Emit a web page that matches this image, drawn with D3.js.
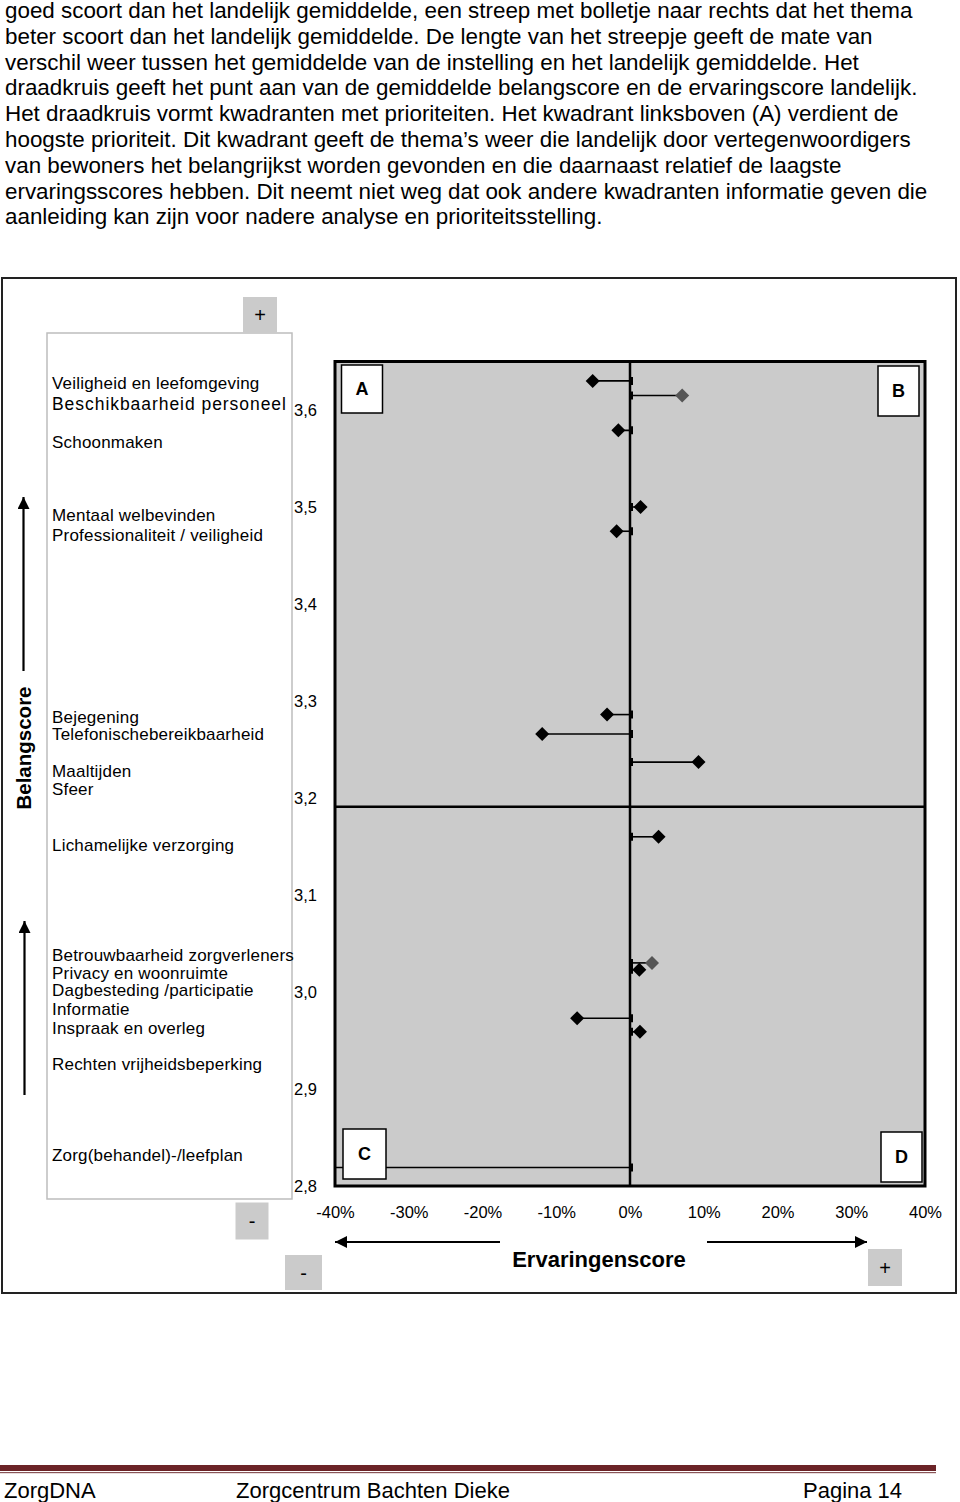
<!DOCTYPE html>
<html>
<head>
<meta charset="utf-8">
<script src="https://cdn.jsdelivr.net/npm/d3@7/dist/d3.min.js"></script>
<style>
  html, body { margin: 0; padding: 0; background: #fff; }
  svg { display: block; }
  text { font-family: Arial, "Liberation Sans", sans-serif; fill: #000; }
</style>
</head>
<body>
<svg id="chart" width="960" height="1502"></svg>
<script>
// ---------- DATA ----------
const paragraph = [
  "goed scoort dan het landelijk gemiddelde, een streep met bolletje naar rechts dat het thema",
  "beter scoort dan het landelijk gemiddelde. De lengte van het streepje geeft de mate van",
  "verschil weer tussen het gemiddelde van de instelling en het landelijk gemiddelde. Het",
  "draadkruis geeft het punt aan van de gemiddelde belangscore en de ervaringscore landelijk.",
  "Het draadkruis vormt kwadranten met prioriteiten. Het kwadrant linksboven (A) verdient de",
  "hoogste prioriteit. Dit kwadrant geeft de thema\u2019s weer die landelijk door vertegenwoordigers",
  "van bewoners het belangrijkst worden gevonden en die daarnaast relatief de laagste",
  "ervaringsscores hebben. Dit neemt niet weg dat ook andere kwadranten informatie geven die",
  "aanleiding kan zijn voor nadere analyse en prioriteitsstelling."
];

const themes = [
  "Veiligheid en leefomgeving", "Beschikbaarheid personeel", "Schoonmaken",
  "Mentaal welbevinden", "Professionaliteit / veiligheid",
  "Bejegening", "Telefonischebereikbaarheid", "Maaltijden", "Sfeer",
  "Lichamelijke verzorging",
  "Betrouwbaarheid zorgverleners", "Privacy en woonruimte", "Dagbesteding /participatie",
  "Informatie", "Inspraak en overleg", "Rechten vrijheidsbeperking", "Zorg(behandel)-/leefplan"
];
// belangscore at which each theme name is listed in the legend box
const labelBelang = [3.628, 3.607, 3.567, 3.492, 3.471, 3.284, 3.266, 3.228, 3.209, 3.152,
                     3.038, 3.020, 3.002, 2.983, 2.963, 2.926, 2.832];
// belangscore of each plotted point (null = not plotted)
const pointBelang = [3.630, 3.615, 3.579, 3.500, 3.475, 3.286, 3.266, 3.237, null, 3.160,
                     3.030, 3.023, null, 2.973, 2.959, null, 2.819];
// ervaringscore difference vs landelijk (fraction)
const pointErvaring = [-0.0506, 0.0708, -0.0158, 0.0143, -0.0181, -0.0311, -0.1191, 0.0929, null, 0.0387,
                       0.0298, 0.0126, null, -0.0717, 0.0135, null, -0.46];
// series: 1 = second series (grey marker)
const series = [0, 1, 0, 0, 0, 0, 0, 0, 0, 0, 1, 0, 0, 0, 0, 0, 0];

const yTicks = [3.6, 3.5, 3.4, 3.3, 3.2, 3.1, 3.0, 2.9, 2.8];
const xTicks = [-0.4, -0.3, -0.2, -0.1, 0, 0.1, 0.2, 0.3, 0.4];
const yDomain = [2.8, 3.65];
const xDomain = [-0.4, 0.4];
const crossBelang = 3.191;   // gemiddelde belangscore landelijk
const crossErvaring = 0;     // ervaringscore landelijk
const quadrants = ["A", "B", "C", "D"];
const footer = ["ZorgDNA", "Zorgcentrum Bachten Dieke", "Pagina 14"];

// ---------- DRAW ----------
const svg = d3.select("#chart");
svg.append("rect").attr("width", 960).attr("height", 1502).attr("fill", "#fff");

// paragraph
svg.append("g").selectAll("text").data(paragraph).join("text")
  .attr("x", 5).attr("y", (d, i) => 18 + i * 25.8)
  .style("font-size", "22.4px").text(d => d);

// outer frame
svg.append("rect").attr("x", 2).attr("y", 278).attr("width", 954).attr("height", 1015)
  .attr("fill", "none").attr("stroke", "#222").attr("stroke-width", 2);

const plot = { left: 335, right: 925, top: 361.5, bottom: 1186 };
const x = d3.scaleLinear().domain(xDomain).range([plot.left, plot.right]);
const y = d3.scaleLinear().domain(yDomain).range([plot.bottom, plot.top]);

// legend box
svg.append("rect").attr("x", 47).attr("y", 333).attr("width", 245).attr("height", 866)
  .attr("fill", "#fff").attr("stroke", "#bdbdbd").attr("stroke-width", 1.5);

// grey sign boxes
function signBox(cx, cy, w, h, s) {
  svg.append("rect").attr("x", cx - w / 2).attr("y", cy - h / 2).attr("width", w).attr("height", h)
    .attr("fill", "#cbcbcb");
  svg.append("text").attr("x", cx).attr("y", cy).attr("dy", "0.36em").attr("text-anchor", "middle")
    .style("font-size", "20px").text(s);
}
signBox(260, 315, 34, 36, "+");
signBox(252, 1221, 33, 37, "-");
signBox(303.5, 1272.5, 37, 35, "-");
signBox(885, 1267.5, 34, 37, "+");

// plot background
svg.append("rect").attr("x", plot.left).attr("y", plot.top)
  .attr("width", plot.right - plot.left).attr("height", plot.bottom - plot.top)
  .attr("fill", "#cbcbcb");

// theme labels
svg.append("g").selectAll("text").data(themes).join("text")
  .attr("x", 52).attr("y", (d, i) => y(labelBelang[i])).attr("dy", "0.36em")
  .style("font-size", (d, i) => i === 1 ? "17.5px" : "17px")
  .style("letter-spacing", (d, i) => i === 1 ? "0.95px" : "0.2px").text(d => d);

// y tick labels
const yAxis = d3.axisLeft(y).tickValues(yTicks).tickSize(0)
  .tickFormat(d => d3.format(".1f")(d).replace(".", ","));
const gy = svg.append("g").attr("transform", "translate(294,0)").call(yAxis);
gy.select(".domain").remove();
gy.selectAll("text").attr("x", 0).attr("text-anchor", "start").attr("dy", "0.36em")
  .style("font-size", "16.5px").style("font-family", "Arial, 'Liberation Sans', sans-serif");

// x tick labels
const xAxis = d3.axisBottom(x).tickValues(xTicks).tickSize(0)
  .tickFormat(d => Math.round(d * 100) + "%");
const gx = svg.append("g").attr("transform", "translate(0,1200)").call(xAxis);
gx.select(".domain").remove();
gx.selectAll("text").attr("y", 0).attr("dy", "1.1em").style("font-size", "16.5px")
  .style("font-family", "Arial, 'Liberation Sans', sans-serif");

// clip for plot
svg.append("clipPath").attr("id", "pc").append("rect")
  .attr("x", plot.left).attr("y", plot.top)
  .attr("width", plot.right - plot.left).attr("height", plot.bottom - plot.top);

const pg = svg.append("g").attr("clip-path", "url(#pc)");

// crosshair
pg.append("line").attr("x1", plot.left).attr("x2", plot.right)
  .attr("y1", y(crossBelang)).attr("y2", y(crossBelang))
  .attr("stroke", "#000").attr("stroke-width", 2.5);
pg.append("line").attr("x1", x(crossErvaring)).attr("x2", x(crossErvaring))
  .attr("y1", plot.top).attr("y2", plot.bottom)
  .attr("stroke", "#000").attr("stroke-width", 2.5);

const pts = themes.map((t, i) => ({ t, b: pointBelang[i], e: pointErvaring[i], s: series[i] }))
  .filter(d => d.b != null && d.e != null);

// difference bars
pg.selectAll("line.bar").data(pts).join("line").attr("class", "bar")
  .attr("x1", x(0)).attr("x2", d => x(d.e))
  .attr("y1", d => y(d.b)).attr("y2", d => y(d.b))
  .attr("stroke", "#000").attr("stroke-width", 1.6);
pg.selectAll("line.cap").data(pts).join("line").attr("class", "cap")
  .attr("x1", x(0) + 2).attr("x2", x(0) + 2)
  .attr("y1", d => y(d.b) - 4).attr("y2", d => y(d.b) + 4)
  .attr("stroke", "#000").attr("stroke-width", 2);
// diamonds
pg.selectAll("path.pt").data(pts).join("path").attr("class", "pt")
  .attr("d", "M0,-7L7,0L0,7L-7,0Z")
  .attr("transform", d => `translate(${x(d.e)},${y(d.b)})`)
  .attr("fill", d => d.s ? "#555" : "#000");

// plot border
svg.append("rect").attr("x", plot.left).attr("y", plot.top)
  .attr("width", plot.right - plot.left).attr("height", plot.bottom - plot.top)
  .attr("fill", "none").attr("stroke", "#000").attr("stroke-width", 3);

// quadrant boxes
const qpos = [
  { x: 341.5, y: 365, w: 41, h: 48 },
  { x: 878, y: 366, w: 41, h: 50 },
  { x: 343, y: 1129, w: 43, h: 50 },
  { x: 881, y: 1132, w: 41, h: 50 }
];
quadrants.forEach((q, i) => {
  const p = qpos[i];
  svg.append("rect").attr("x", p.x).attr("y", p.y).attr("width", p.w).attr("height", p.h)
    .attr("fill", "#fff").attr("stroke", "#000").attr("stroke-width", 1.5);
  svg.append("text").attr("x", p.x + p.w / 2).attr("y", p.y + p.h / 2).attr("dy", "0.36em")
    .attr("text-anchor", "middle").style("font-size", "18px").style("font-weight", "bold").text(q);
});

// arrows
const defs = svg.append("defs");
defs.append("marker").attr("id", "ah").attr("viewBox", "0 0 10 10").attr("refX", 10).attr("refY", 5)
  .attr("markerWidth", 12).attr("markerHeight", 12).attr("orient", "auto-start-reverse")
  .attr("markerUnits", "userSpaceOnUse")
  .append("path").attr("d", "M0,0L10,5L0,10Z").attr("fill", "#000");

function arrowLine(x1, y1, x2, y2) {
  svg.append("line").attr("x1", x1).attr("y1", y1).attr("x2", x2).attr("y2", y2)
    .attr("stroke", "#000").attr("stroke-width", 2.2).attr("marker-end", "url(#ah)");
}
// y-axis arrows
arrowLine(23.5, 671, 23.5, 497);
arrowLine(24.5, 1095, 24.5, 921);
// x-axis arrows
arrowLine(500, 1242, 335, 1242);
arrowLine(707, 1242, 867, 1242);

// axis titles
svg.append("text").attr("transform", "translate(31,748) rotate(-90)")
  .attr("text-anchor", "middle").style("font-size", "20.5px").style("font-weight", "bold")
  .text("Belangscore");
svg.append("text").attr("x", 599).attr("y", 1267).attr("text-anchor", "middle")
  .style("font-size", "22px").style("font-weight", "bold").text("Ervaringenscore");

// footer
svg.append("rect").attr("x", 0).attr("y", 1465).attr("width", 936).attr("height", 6).attr("fill", "#6b2327");
svg.append("rect").attr("x", 0).attr("y", 1472).attr("width", 936).attr("height", 1.2).attr("fill", "#8a5558");
const fx = [4, 236, 803];
svg.append("g").selectAll("text").data(footer).join("text")
  .attr("x", (d, i) => fx[i]).attr("y", 1497.5).style("font-size", "22px").text(d => d);
</script>
</body>
</html>
